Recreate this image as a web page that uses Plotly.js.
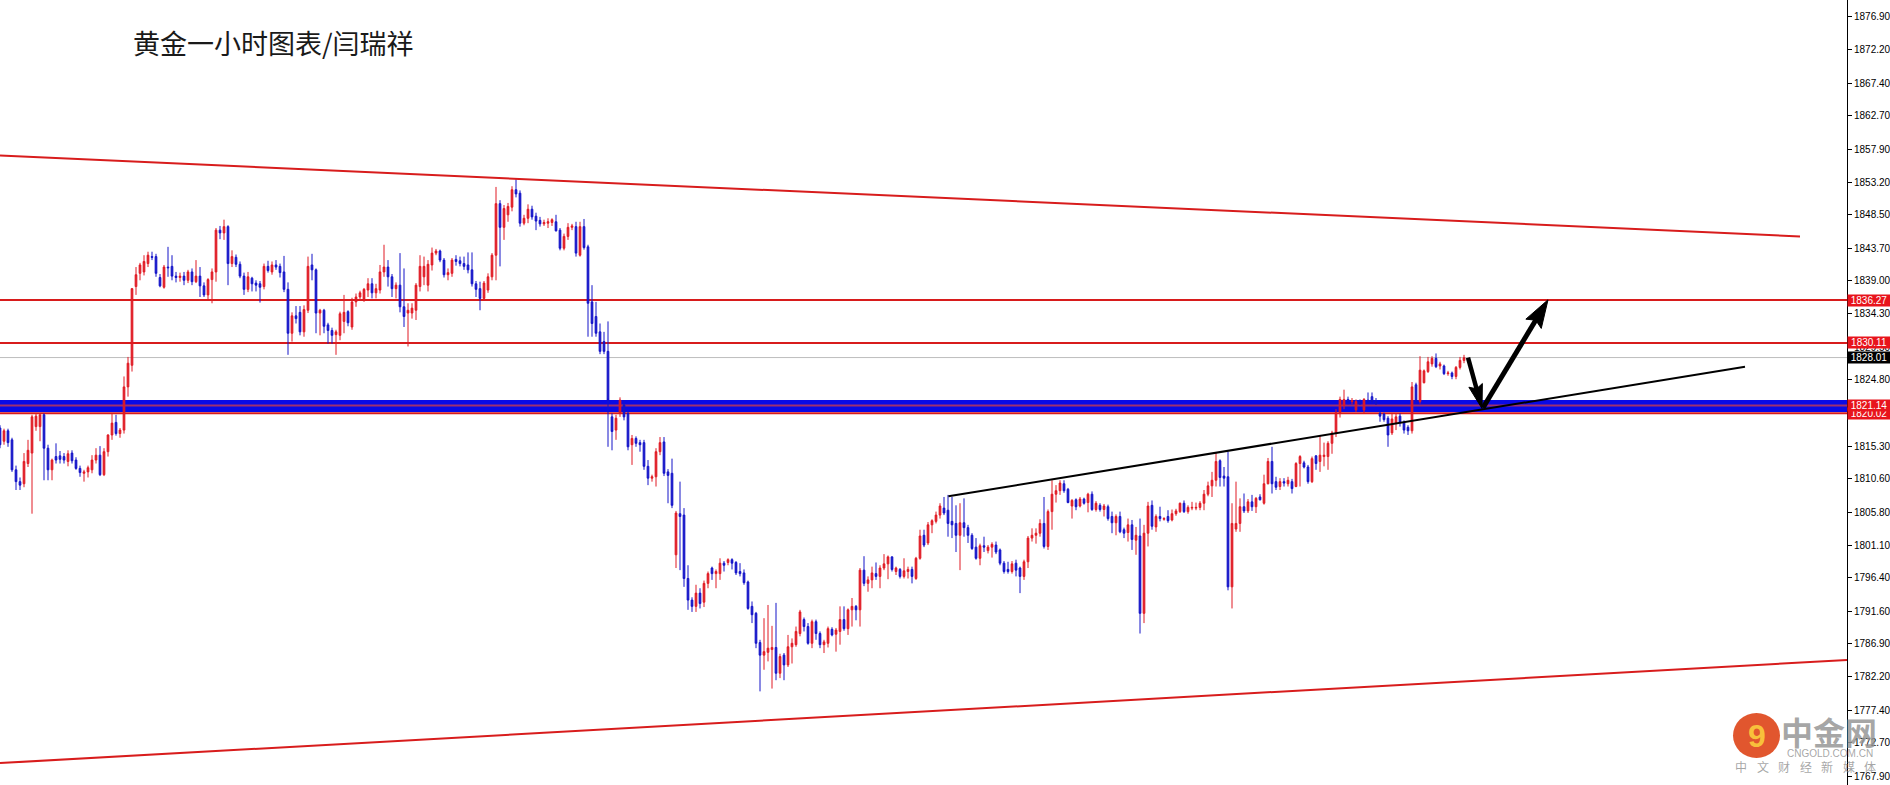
<!DOCTYPE html>
<html><head><meta charset="utf-8">
<script src="https://cdn.plot.ly/plotly-3.0.1.min.js"></script>
<style>html,body{margin:0;padding:0;background:#fff;overflow:hidden}#chart{width:1890px;height:785px}</style>
</head><body><div id="chart"></div>
<script>
// ---- hourly gold candles ----
const open = [
1817.9,1816.0,1817.5,1816.2,1811.9,1810.2,1809.9,1812.8,1814.3,1818.1,
1818.1,1819.8,1815.0,1811.9,1813.8,1813.9,1813.8,1813.1,1814.3,1813.3,
1812.1,1811.4,1811.6,1811.9,1813.3,1814.0,1811.2,1814.5,1816.9,1818.7,
1817.1,1817.6,1823.8,1826.9,1838.2,1840.1,1840.3,1841.5,1842.5,1842.5,
1839.5,1838.1,1841.0,1841.1,1839.7,1839.5,1839.7,1839.1,1840.3,1838.9,
1839.7,1838.3,1837.0,1839.2,1840.3,1846.3,1845.9,1846.8,1841.5,1842.4,
1841.4,1839.7,1837.8,1839.4,1838.7,1838.6,1838.2,1841.1,1840.3,1841.3,
1841.1,1840.3,1837.8,1831.5,1834.0,1834.5,1831.7,1834.8,1841.3,1840.6,
1834.4,1834.8,1832.7,1831.9,1831.3,1831.2,1833.2,1834.6,1832.4,1836.0,
1836.7,1836.4,1837.7,1838.6,1837.3,1837.7,1840.3,1841.0,1839.6,1837.9,
1838.4,1835.3,1834.4,1834.4,1834.8,1838.2,1839.6,1838.4,1841.3,1843.0,
1843.3,1842.0,1839.9,1840.1,1842.1,1841.9,1841.5,1841.3,1840.6,1838.6,
1837.9,1836.5,1837.7,1839.6,1842.7,1850.1,1846.7,1848.5,1849.6,1852.1,
1851.6,1847.3,1848.0,1849.3,1848.3,1847.7,1847.2,1847.3,1847.4,1847.5,
1846.3,1843.7,1845.4,1846.7,1846.8,1842.7,1846.8,1843.9,1836.0,1833.9,
1831.7,1830.3,1828.9,1819.5,1817.6,1820.0,1821.2,1820.0,1815.5,1816.4,
1815.8,1815.8,1812.4,1810.7,1810.9,1814.5,1815.9,1811.6,1811.4,1799.7,
1805.6,1805.4,1796.3,1793.2,1792.3,1794.2,1792.9,1795.6,1797.8,1797.0,
1797.0,1798.5,1798.6,1799.0,1798.6,1797.3,1797.1,1795.8,1792.3,1791.3,
1787.1,1785.3,1785.7,1786.1,1786.4,1782.7,1785.3,1783.9,1786.5,1786.8,
1788.4,1790.4,1789.4,1787.0,1790.1,1788.4,1786.8,1787.0,1789.0,1788.3,
1788.7,1790.4,1789.1,1791.8,1792.3,1791.8,1797.5,1795.6,1796.1,1797.0,
1796.6,1797.8,1798.4,1799.4,1797.3,1797.6,1796.6,1797.3,1797.6,1796.3,
1799.2,1802.5,1801.4,1804.0,1804.5,1805.4,1806.4,1806.1,1804.5,1804.2,
1802.5,1804.3,1803.6,1802.5,1800.8,1799.2,1801.0,1800.3,1800.8,1801.1,
1800.4,1798.5,1797.6,1797.3,1798.5,1797.8,1796.6,1798.7,1802.1,1802.5,
1802.8,1804.2,1800.9,1805.9,1808.4,1808.9,1809.9,1809.1,1806.7,1807.6,
1806.7,1807.7,1807.2,1808.4,1806.2,1806.8,1806.2,1806.6,1805.2,1804.3,
1805.2,1803.3,1802.9,1804.0,1801.8,1802.4,1791.3,1802.8,1806.8,1803.7,
1805.2,1804.8,1805.2,1804.7,1805.6,1805.9,1807.1,1805.9,1806.4,1806.4,
1806.5,1807.1,1808.4,1809.6,1810.4,1813.2,1811.0,1810.9,1795.1,1803.4,
1804.2,1806.6,1806.0,1807.3,1806.6,1808.0,1807.1,1809.9,1813.1,1810.2,
1809.5,1810.2,1809.9,1810.2,1809.5,1812.8,1812.9,1812.3,1810.2,1813.9,
1813.1,1813.8,1813.8,1815.7,1817.2,1820.1,1821.1,1822.0,1821.7,1820.5,
1821.7,1820.5,1821.9,1822.4,1821.7,1820.0,1819.9,1819.3,1817.2,1818.6,
1819.6,1818.7,1818.0,1817.5,1824.1,1821.7,1824.4,1826.0,1827.1,1827.9,
1826.8,1826.8,1825.7,1825.8,1825.3,1826.6,1827.6];
const high = [
1818.3,1817.8,1817.8,1816.5,1812.5,1810.8,1814.3,1816.2,1819.8,1819.9,
1820.0,1820.0,1815.5,1813.5,1815.7,1814.6,1814.3,1814.7,1814.7,1813.7,
1812.5,1811.9,1812.5,1814.0,1815.0,1815.3,1815.0,1817.0,1820.0,1819.8,
1817.9,1825.3,1828.1,1838.0,1841.0,1841.6,1842.7,1843.2,1843.2,1842.9,
1840.0,1841.3,1843.9,1842.7,1840.3,1840.2,1840.3,1840.6,1840.8,1842.0,
1841.0,1838.8,1839.4,1840.8,1846.6,1846.9,1847.8,1847.0,1843.4,1842.8,
1841.8,1840.2,1840.3,1839.6,1839.1,1839.0,1841.5,1841.9,1841.8,1842.0,
1841.5,1842.6,1838.8,1834.5,1835.4,1835.4,1835.5,1842.5,1842.9,1840.8,
1835.0,1835.0,1833.0,1832.3,1832.0,1834.6,1837.0,1834.8,1836.6,1837.2,
1837.6,1838.0,1839.4,1839.4,1838.6,1841.3,1844.2,1842.0,1840.0,1838.8,
1843.0,1840.8,1835.8,1835.8,1838.7,1842.7,1842.5,1842.0,1843.8,1843.6,
1843.5,1842.3,1840.8,1842.3,1842.7,1842.5,1842.5,1843.1,1843.1,1839.0,
1838.9,1839.0,1840.1,1843.0,1852.5,1850.6,1849.9,1850.2,1852.6,1853.6,
1852.0,1848.5,1850.0,1849.8,1848.8,1848.2,1847.8,1848.0,1848.0,1848.5,
1846.6,1845.8,1847.3,1847.2,1847.5,1847.5,1847.9,1844.2,1838.4,1836.0,
1832.9,1831.7,1833.2,1820.0,1819.8,1822.3,1821.9,1820.3,1816.9,1816.7,
1816.2,1816.2,1813.3,1811.2,1815.0,1816.6,1816.6,1812.0,1813.5,1806.0,
1810.2,1806.4,1798.2,1793.6,1795.4,1794.9,1796.0,1797.3,1798.0,1797.6,
1799.2,1798.8,1799.2,1799.2,1798.8,1798.5,1797.6,1796.0,1793.0,1791.5,
1787.5,1790.6,1792.5,1789.5,1792.8,1785.5,1785.6,1788.2,1787.7,1789.4,
1791.8,1790.7,1789.9,1790.4,1790.4,1788.7,1787.5,1789.4,1789.3,1789.2,
1792.3,1792.3,1792.0,1793.5,1792.5,1797.8,1799.5,1796.6,1798.0,1798.6,
1798.2,1799.8,1799.6,1799.5,1798.0,1797.8,1799.2,1798.0,1798.0,1799.4,
1803.3,1803.3,1804.4,1804.8,1805.9,1807.1,1808.0,1808.3,1808.0,1806.8,
1807.1,1807.8,1804.0,1802.8,1802.1,1801.3,1802.3,1801.1,1801.5,1801.6,
1800.6,1798.8,1798.7,1798.8,1799.0,1798.0,1799.0,1802.4,1803.5,1803.5,
1804.8,1808.0,1806.2,1810.4,1809.7,1810.4,1810.4,1809.3,1807.7,1807.8,
1808.0,1807.9,1808.6,1808.8,1807.4,1807.1,1807.0,1806.9,1805.9,1805.5,
1805.9,1803.6,1804.9,1804.7,1803.7,1804.9,1804.0,1807.3,1807.5,1805.5,
1806.6,1805.1,1806.1,1806.2,1806.3,1807.2,1807.5,1806.8,1807.3,1807.2,
1807.4,1809.0,1810.2,1811.6,1814.3,1813.4,1812.3,1814.5,1807.1,1810.2,
1807.8,1808.5,1807.7,1808.3,1808.0,1808.4,1811.2,1813.6,1815.2,1810.9,
1810.7,1810.7,1810.9,1810.6,1813.0,1814.0,1813.2,1812.6,1813.8,1814.0,
1816.9,1815.8,1816.0,1817.5,1820.6,1822.4,1823.4,1822.4,1822.2,1822.0,
1822.0,1822.2,1823.0,1823.0,1822.2,1820.3,1820.1,1819.6,1820.0,1820.0,
1820.0,1819.0,1818.3,1824.5,1824.4,1828.2,1826.3,1828.1,1828.2,1828.6,
1827.4,1827.0,1826.1,1826.0,1826.8,1828.1,1828.4];
const low = [
1815.0,1815.5,1815.2,1811.6,1809.0,1809.0,1809.4,1812.3,1805.6,1817.5,
1816.0,1810.4,1810.4,1810.4,1812.8,1812.8,1812.8,1812.4,1812.8,1811.9,
1810.9,1810.2,1810.8,1811.4,1812.8,1811.0,1811.0,1813.8,1816.2,1816.8,
1816.5,1817.1,1822.4,1826.0,1837.0,1839.1,1839.8,1841.0,1842.0,1839.6,
1838.1,1837.9,1839.6,1839.1,1838.8,1838.9,1838.4,1838.7,1838.4,1838.7,
1836.7,1836.7,1836.3,1835.8,1838.9,1845.0,1844.9,1838.4,1841.0,1841.0,
1839.4,1837.0,1837.4,1837.5,1837.5,1835.9,1837.8,1840.2,1839.9,1840.6,
1839.5,1837.4,1828.4,1830.3,1832.9,1831.2,1831.0,1834.4,1839.1,1831.5,
1831.2,1831.5,1830.0,1830.0,1828.4,1830.5,1831.5,1832.5,1832.0,1835.3,
1836.2,1836.0,1836.7,1836.5,1836.5,1837.2,1839.6,1838.2,1836.7,1836.5,
1834.5,1832.4,1829.6,1833.6,1833.4,1837.5,1838.4,1837.5,1840.5,1842.7,
1841.7,1839.5,1839.1,1839.6,1841.2,1841.1,1840.6,1840.1,1838.2,1836.7,
1834.8,1836.3,1837.3,1839.1,1839.1,1841.1,1844.9,1847.5,1849.0,1851.0,
1846.8,1847.0,1847.3,1847.8,1846.3,1846.8,1846.9,1846.6,1846.9,1846.1,
1843.4,1843.4,1844.9,1846.3,1842.5,1842.5,1843.5,1831.0,1831.0,1831.0,
1828.5,1828.5,1815.2,1814.7,1816.2,1819.5,1819.0,1814.7,1812.6,1815.2,
1814.5,1811.9,1809.7,1810.2,1809.5,1814.0,1811.0,1807.1,1806.4,1797.8,
1797.5,1795.1,1791.8,1791.5,1791.5,1792.0,1792.2,1794.9,1796.1,1794.9,
1796.1,1797.3,1798.2,1797.6,1796.8,1796.6,1795.4,1791.8,1789.9,1786.3,
1780.1,1783.2,1784.4,1780.5,1781.7,1782.0,1781.7,1783.6,1784.1,1786.5,
1788.0,1788.7,1786.8,1786.3,1787.5,1786.3,1785.6,1786.4,1788.0,1785.8,
1786.8,1788.8,1788.2,1789.4,1790.3,1789.4,1795.2,1794.4,1794.9,1796.1,
1794.9,1797.5,1796.2,1797.3,1796.8,1796.3,1796.3,1796.3,1795.6,1796.1,
1799.0,1800.8,1801.1,1802.8,1804.2,1804.9,1805.4,1802.3,1802.1,1800.1,
1797.5,1802.3,1801.4,1800.4,1799.0,1798.2,1800.1,1799.9,1799.3,1799.8,
1798.2,1797.0,1797.0,1797.0,1796.6,1794.2,1796.1,1797.8,1801.6,1801.3,
1802.3,1800.6,1800.4,1803.3,1807.2,1808.3,1808.6,1807.1,1804.9,1806.1,
1806.5,1806.9,1805.8,1806.0,1805.9,1805.9,1805.2,1804.6,1802.8,1802.5,
1802.8,1802.1,1801.6,1800.4,1799.7,1788.4,1789.9,1800.9,1803.3,1803.0,
1804.5,1804.6,1804.3,1804.5,1805.3,1805.7,1805.7,1805.6,1806.1,1806.1,
1806.1,1806.1,1808.1,1808.0,1809.5,1809.5,1809.5,1794.6,1792.0,1803.0,
1803.0,1805.7,1805.7,1806.0,1805.7,1807.5,1806.9,1809.8,1808.5,1809.0,
1809.0,1809.5,1809.5,1808.5,1809.4,1809.5,1812.1,1809.9,1810.0,1811.9,
1811.6,1812.4,1811.9,1814.2,1816.6,1819.4,1820.6,1821.3,1821.3,1820.2,
1821.2,1820.0,1821.4,1821.4,1821.2,1818.8,1818.8,1815.2,1816.9,1817.6,
1818.1,1817.1,1816.9,1817.1,1821.4,1821.4,1824.3,1825.8,1826.7,1826.5,
1826.3,1825.5,1825.4,1824.9,1824.9,1826.3,1827.2];
const close = [
1815.5,1817.5,1815.8,1811.9,1810.2,1809.7,1813.1,1814.7,1819.5,1819.6,
1819.8,1815.0,1811.9,1813.3,1813.3,1813.4,1813.3,1814.2,1813.2,1812.1,
1811.5,1811.6,1812.2,1813.3,1814.0,1811.2,1814.5,1816.9,1818.6,1817.1,
1817.6,1823.8,1827.2,1837.9,1839.9,1841.3,1841.8,1842.7,1842.4,1840.1,
1838.3,1841.0,1840.9,1839.7,1839.5,1839.7,1839.1,1840.3,1838.9,1839.7,
1838.3,1837.0,1839.2,1840.3,1846.3,1845.9,1846.8,1841.5,1842.5,1841.4,
1839.7,1837.8,1839.6,1838.6,1838.4,1838.1,1841.1,1840.5,1841.3,1841.0,
1840.2,1837.8,1831.5,1834.0,1833.6,1831.7,1834.9,1841.1,1840.6,1834.4,
1834.8,1832.5,1831.9,1831.2,1831.7,1834.3,1834.5,1833.0,1836.0,1836.7,
1837.3,1837.8,1838.6,1837.3,1837.9,1840.3,1841.0,1839.6,1837.9,1838.4,
1835.3,1833.9,1834.8,1835.1,1838.4,1841.1,1841.1,1841.4,1843.0,1843.3,
1842.0,1839.9,1840.2,1842.0,1841.8,1841.5,1841.1,1840.6,1838.6,1837.8,
1836.5,1838.7,1839.6,1842.7,1850.1,1846.7,1849.4,1849.7,1852.1,1851.5,
1847.3,1848.0,1849.3,1848.2,1847.6,1847.2,1847.4,1847.5,1847.8,1846.2,
1843.7,1845.4,1846.7,1846.9,1843.0,1846.8,1843.8,1835.8,1832.9,1831.5,
1828.9,1828.9,1821.9,1817.4,1819.3,1821.9,1819.5,1815.2,1816.4,1815.7,
1815.5,1812.4,1810.7,1810.9,1814.5,1815.8,1811.4,1811.1,1806.8,1805.7,
1805.2,1796.3,1793.2,1792.3,1794.2,1792.7,1795.6,1797.0,1797.0,1797.3,
1798.5,1798.2,1799.0,1798.5,1797.1,1797.0,1795.7,1792.0,1791.1,1787.0,
1785.3,1785.8,1786.3,1786.4,1782.7,1785.1,1783.9,1786.5,1787.0,1788.7,
1791.5,1789.4,1787.0,1790.1,1788.4,1786.8,1787.2,1789.1,1788.2,1788.9,
1790.4,1789.1,1791.8,1792.3,1791.8,1797.5,1795.6,1796.1,1797.1,1796.6,
1797.8,1798.4,1799.4,1797.6,1797.8,1796.6,1797.4,1797.6,1796.6,1799.2,
1802.4,1801.1,1804.0,1804.6,1805.4,1806.7,1805.7,1804.2,1804.0,1802.5,
1804.3,1803.6,1802.5,1800.6,1799.2,1801.0,1800.8,1800.8,1801.2,1800.1,
1798.5,1797.3,1797.3,1798.4,1797.5,1796.6,1798.7,1802.1,1802.5,1802.8,
1804.2,1800.9,1805.9,1808.4,1808.9,1810.0,1808.9,1807.2,1807.5,1806.6,
1807.7,1807.1,1808.4,1806.2,1807.1,1806.2,1806.7,1804.9,1804.3,1805.2,
1803.0,1802.8,1804.0,1801.9,1802.5,1791.3,1802.8,1806.7,1803.8,1805.2,
1804.9,1804.9,1804.6,1805.6,1806.0,1807.1,1805.9,1806.5,1806.5,1806.5,
1807.1,1808.4,1809.6,1810.4,1813.1,1810.8,1810.7,1795.1,1804.2,1804.2,
1806.6,1806.0,1807.3,1806.6,1807.8,1807.6,1809.9,1813.1,1809.9,1809.4,
1810.2,1810.0,1810.4,1809.2,1812.8,1813.8,1812.3,1810.2,1813.5,1812.8,
1814.0,1814.0,1815.7,1817.2,1820.1,1822.0,1822.0,1821.7,1821.8,1821.7,
1821.4,1822.0,1821.7,1821.7,1821.4,1819.6,1819.1,1816.9,1819.2,1819.5,
1818.7,1817.6,1817.5,1823.8,1821.7,1826.2,1826.1,1827.4,1827.9,1826.7,
1827.1,1825.7,1825.8,1825.3,1826.6,1827.6,1828.0];

// ---- axis ticks ----
const tickValues = [1876.90,1872.20,1867.40,1862.70,1857.90,1853.20,1848.50,1843.70,1839.00,1834.30,1829.50,1824.80,1820.10,1815.30,1810.60,1805.80,1801.10,1796.40,1791.60,1786.90,1782.20,1777.40,1772.70,1767.90];
const tickLabels = tickValues.map(v => v.toFixed(2));

// ---- levels & drawn lines (prices) ----
const redLevels = [1836.27, 1830.11];
const currentPrice = 1828.01;
const bandTop = 1821.92, bandBottom = 1820.18;
const bandMid = 1821.14, bandLow = 1820.02;
const tagValues = [1836.27, 1830.11, 1820.02, 1821.14, 1828.01];
const tagColors = ['#e8141c', '#e8141c', '#e8141c', '#e8141c', '#000000'];
const upperChannelX = [0, 450], upperChannelY = [1857.0, 1845.4];
const lowerChannelX = [0, 461.75], lowerChannelY = [1769.8, 1784.6];
const supportX = [237.1, 436.25], supportY = [1808.1, 1826.7];
const arrowDownX = [367, 370.5], arrowDownY = [1828.0, 1820.7];
const arrowUpX = [370.75, 387], arrowUpY = [1820.8, 1836.3];

const idx = open.map((_, i) => i);
const RED = '#e01b24', BLUE = '#1414c8', LINE_RED = '#d81c1c';
const PLOT_W = 1847, H = 785;
const X_RANGE = [0, PLOT_W / 4], Y_RANGE = [1766.66, 1879.33];
const PX_X = PLOT_W / (X_RANGE[1] - X_RANGE[0]);
const PX_Y = H / (Y_RANGE[1] - Y_RANGE[0]);
const px = x => x / PLOT_W, py = y => 1 - y / H;

// arrow = shaft line + slim filled head (head drawn in pixel units anchored at the tip)
function arrowShapes(xs, ys, headLen, headHalf, shaftW) {
  const dx = (xs[1] - xs[0]) * PX_X, dy = (ys[1] - ys[0]) * PX_Y;
  const len = Math.hypot(dx, dy), ux = dx / len, uy = dy / len, nx = -uy, ny = ux;
  const bx = -ux * headLen, by = -uy * headLen;
  const path = `M0,0 L${(bx + nx * headHalf).toFixed(2)},${(by + ny * headHalf).toFixed(2)} ` +
               `L${(bx * 0.85).toFixed(2)},${(by * 0.85).toFixed(2)} ` +
               `L${(bx - nx * headHalf).toFixed(2)},${(by - ny * headHalf).toFixed(2)} Z`;
  const endX = xs[1] + (bx * 0.8) / PX_X, endY = ys[1] + (by * 0.8) / PX_Y;
  return [
    {type:'line', xref:'x', yref:'y', x0:xs[0], y0:ys[0], x1:endX, y1:endY, line:{color:'#000', width:shaftW}},
    {type:'path', xref:'x', yref:'y', xsizemode:'pixel', ysizemode:'pixel', xanchor:xs[1], yanchor:ys[1],
     path, fillcolor:'#000', line:{color:'#000', width:1}}
  ];
}

const trace = {
  type: 'candlestick', x: idx, open, high, low, close,
  increasing: {line: {color: RED, width: 1}, fillcolor: RED},
  decreasing: {line: {color: BLUE, width: 1}, fillcolor: BLUE},
  whiskerwidth: 0, hoverinfo: 'skip', showlegend: false
};

const shapes = [
  {type:'rect', xref:'paper', yref:'y', x0:0, x1:1, y0:bandBottom, y1:bandTop, fillcolor:'#0a0ae6', line:{width:0}, layer:'below'},
  {type:'line', xref:'paper', yref:'y', x0:0, x1:1, y0:bandMid, y1:bandMid, line:{color:'#a0306e', width:2}, layer:'below'},
  {type:'line', xref:'paper', yref:'y', x0:0, x1:1, y0:bandLow, y1:bandLow, line:{color:LINE_RED, width:2}, layer:'below'},
  {type:'line', xref:'paper', yref:'y', x0:0, x1:1, y0:currentPrice, y1:currentPrice, line:{color:'#bdbdbd', width:1}, layer:'below'},
  ...redLevels.map(v => ({type:'line', xref:'paper', yref:'y', x0:0, x1:1, y0:v, y1:v, line:{color:LINE_RED, width:2}, layer:'below'})),
  {type:'line', xref:'x', yref:'y', x0:upperChannelX[0], x1:upperChannelX[1], y0:upperChannelY[0], y1:upperChannelY[1], line:{color:LINE_RED, width:2}},
  {type:'line', xref:'x', yref:'y', x0:lowerChannelX[0], x1:lowerChannelX[1], y0:lowerChannelY[0], y1:lowerChannelY[1], line:{color:LINE_RED, width:2}},
  {type:'line', xref:'x', yref:'y', x0:supportX[0], x1:supportX[1], y0:supportY[0], y1:supportY[1], line:{color:'#000', width:2}},
  ...arrowShapes(arrowDownX, arrowDownY, 24, 7, 4.5),
  ...arrowShapes(arrowUpX, arrowUpY, 28, 9, 5),
  // watermark logo
  {type:'circle', xref:'paper', yref:'paper', x0:px(1733), x1:px(1780), y0:py(758), y1:py(713), fillcolor:'rgba(222,72,28,0.92)', line:{width:0}, layer:'above'}
];

const annotations = [
  {xref:'paper', yref:'paper', x:px(131), y:py(42.5), xanchor:'left', yanchor:'middle', showarrow:false,
   text:'黄金一小时图表/闫瑞祥', font:{family:'Noto Sans CJK SC', size:27, color:'#1a1a1a'}},
  ...tagValues.map((v, k) => ({xref:'paper', yref:'y', x:1, y:v, xanchor:'left', yanchor:'middle', showarrow:false,
    text:v.toFixed(2), bgcolor:tagColors[k], borderpad:0, width:42, height:11, align:'center',
    font:{family:'Liberation Sans', size:10, color:'#fff'}})),
  // watermark texts
  {xref:'paper', yref:'paper', x:px(1756.5), y:py(736), xanchor:'center', yanchor:'middle', showarrow:false,
   text:'<b>9</b>', font:{family:'Liberation Sans', size:32, color:'rgba(250,200,60,0.95)'}},
  {xref:'paper', yref:'paper', x:px(1829), y:py(731), xanchor:'center', yanchor:'middle', showarrow:false,
   text:'<b>中金网</b>', font:{family:'Noto Sans CJK SC', size:32, color:'rgba(150,150,150,0.85)'}},
  {xref:'paper', yref:'paper', x:px(1830), y:py(753.5), xanchor:'center', yanchor:'middle', showarrow:false,
   text:'CNGOLD.COM.CN', font:{family:'Liberation Sans', size:10, color:'rgba(150,150,150,0.85)'}},
  ...['中','文','财','经','新','媒','体'].map((c, k) => ({xref:'paper', yref:'paper', x:px(1741 + k * 21.5), y:py(766),
    xanchor:'center', yanchor:'middle', showarrow:false, text:c,
    font:{family:'Noto Sans CJK SC', size:12, color:'rgba(150,150,150,0.85)'}}))
];

const layout = {
  width: 1890, height: 785,
  margin: {l:0, r:43, t:0, b:0, pad:0},
  paper_bgcolor: '#fff', plot_bgcolor: '#fff',
  showlegend: false, hovermode: false, boxgap: 0.4,
  xaxis: {range:X_RANGE, visible:false, showgrid:false, zeroline:false, rangeslider:{visible:false}, fixedrange:true},
  yaxis: {side:'right', range:Y_RANGE, showgrid:false, zeroline:false,
    showline:true, linecolor:'#000', linewidth:1, ticks:'outside', ticklen:4, tickcolor:'#000',
    tickvals:tickValues, ticktext:tickLabels, tickfont:{family:'Liberation Sans', size:10, color:'#000'}, fixedrange:true},
  shapes, annotations
};

Plotly.newPlot('chart', [trace], layout, {staticPlot:true, displayModeBar:false});
</script></body></html>
